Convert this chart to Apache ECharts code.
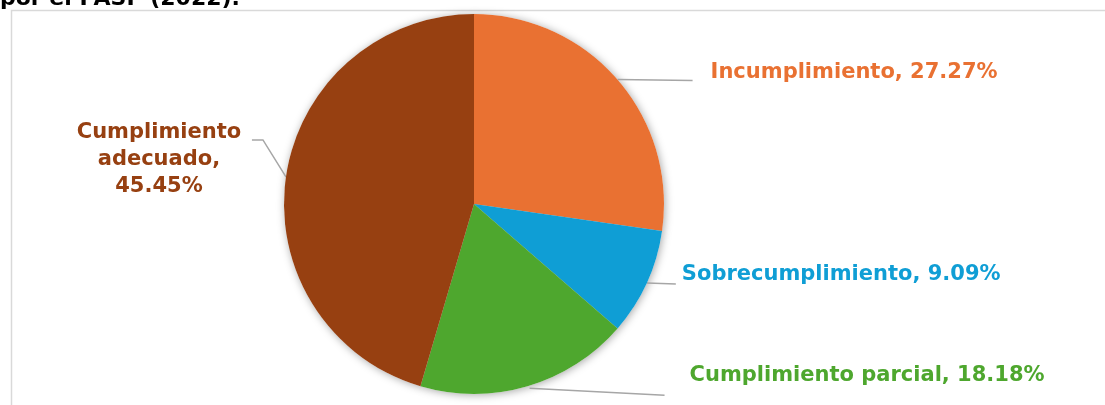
<!DOCTYPE html>
<html><head><meta charset="utf-8">
<script src="https://cdn.jsdelivr.net/npm/echarts@6/dist/echarts.min.js"></script>
<style>html,body{margin:0;padding:0;background:#fff}#c{width:1105px;height:405px}</style>
</head><body><div id="c"></div>
<script>
const categories = ['Incumplimiento', 'Sobrecumplimiento', 'Cumplimiento parcial', 'Cumplimiento adecuado'];
const values = [27.27, 9.09, 18.18, 45.45];
const labelTexts = ['Incumplimiento, 27.27%', 'Sobrecumplimiento, 9.09%', 'Cumplimiento parcial, 18.18%', 'Cumplimiento\nadecuado,\n45.45%'];
const colors = ['#E97132', '#0F9ED5', '#4EA72E', '#974011'];
const titleText = 'por el PASP (2022).';

// leader-line and label offsets relative to each slice's outer mid-point
const leader = [
  {line: [[0, 0], [75, 1]], text: [93, -7], align: 'left'},
  {line: [[0, 0], [29, 1]], text: [35, -8], align: 'left'},
  {line: [[2, 2], [137, 9]], text: [162, -11], align: 'left'},
  {line: [[0, 0], [-23, -37], [-34, -37]], text: [-127, -17], align: 'center'}
];

const chart = echarts.init(document.getElementById('c'), null, {renderer: 'canvas'});
const data = categories.map((name, i) => ({
  name: name,
  value: values[i],
  itemStyle: {color: colors[i]},
  label: {color: colors[i], formatter: labelTexts[i]}
}));
const shadowData = categories.map((name, i) => ({name: name, value: values[i]}));

const pieCenter = [474, 204];
const pieRadius = 190;

chart.setOption({
  animation: false,
  backgroundColor: '#ffffff',
  graphic: [
    {type: 'rect', z: -10, shape: {x: 11.5, y: 10.5, width: 1200, height: 500},
     style: {fill: 'none', stroke: '#D9D9D9', lineWidth: 1.5}},
    {type: 'text', x: 0, y: -12, z: 10,
     style: {text: titleText, font: 'bold 22px "DejaVu Sans"', fill: '#000000', verticalAlign: 'top'}}
  ],
  series: [{
    // soft drop shadow layer underneath
    type: 'pie',
    z: 1,
    silent: true,
    center: pieCenter,
    radius: pieRadius,
    startAngle: 90,
    data: shadowData,
    label: {show: false},
    labelLine: {show: false},
    itemStyle: {
      color: '#ffffff',
      shadowBlur: 9,
      shadowColor: 'rgba(0,0,0,0.35)',
      shadowOffsetX: 1,
      shadowOffsetY: 1
    },
    emphasis: {disabled: true}
  }, {
    type: 'pie',
    z: 2,
    center: pieCenter,
    radius: pieRadius,
    startAngle: 90,
    clockwise: true,
    avoidLabelOverlap: false,
    data: data,
    itemStyle: {borderWidth: 0},
    label: {
      show: true,
      position: 'outside',
      fontFamily: 'DejaVu Sans',
      fontWeight: 'bold',
      fontSize: 21,
      lineHeight: 27
    },
    labelLine: {
      show: true,
      length: 10,
      length2: 10,
      smooth: false,
      lineStyle: {color: '#A6A6A6', width: 1.5}
    },
    emphasis: {disabled: true},
    labelLayout: function (params) {
      const cfg = leader[params.dataIndex];
      const a = params.labelLinePoints[0];
      return {
        x: a[0] + cfg.text[0],
        y: a[1] + cfg.text[1],
        align: cfg.align,
        verticalAlign: 'middle',
        labelLinePoints: cfg.line.map(p => [a[0] + p[0], a[1] + p[1]])
      };
    }
  }]
});
</script>
</body></html>
